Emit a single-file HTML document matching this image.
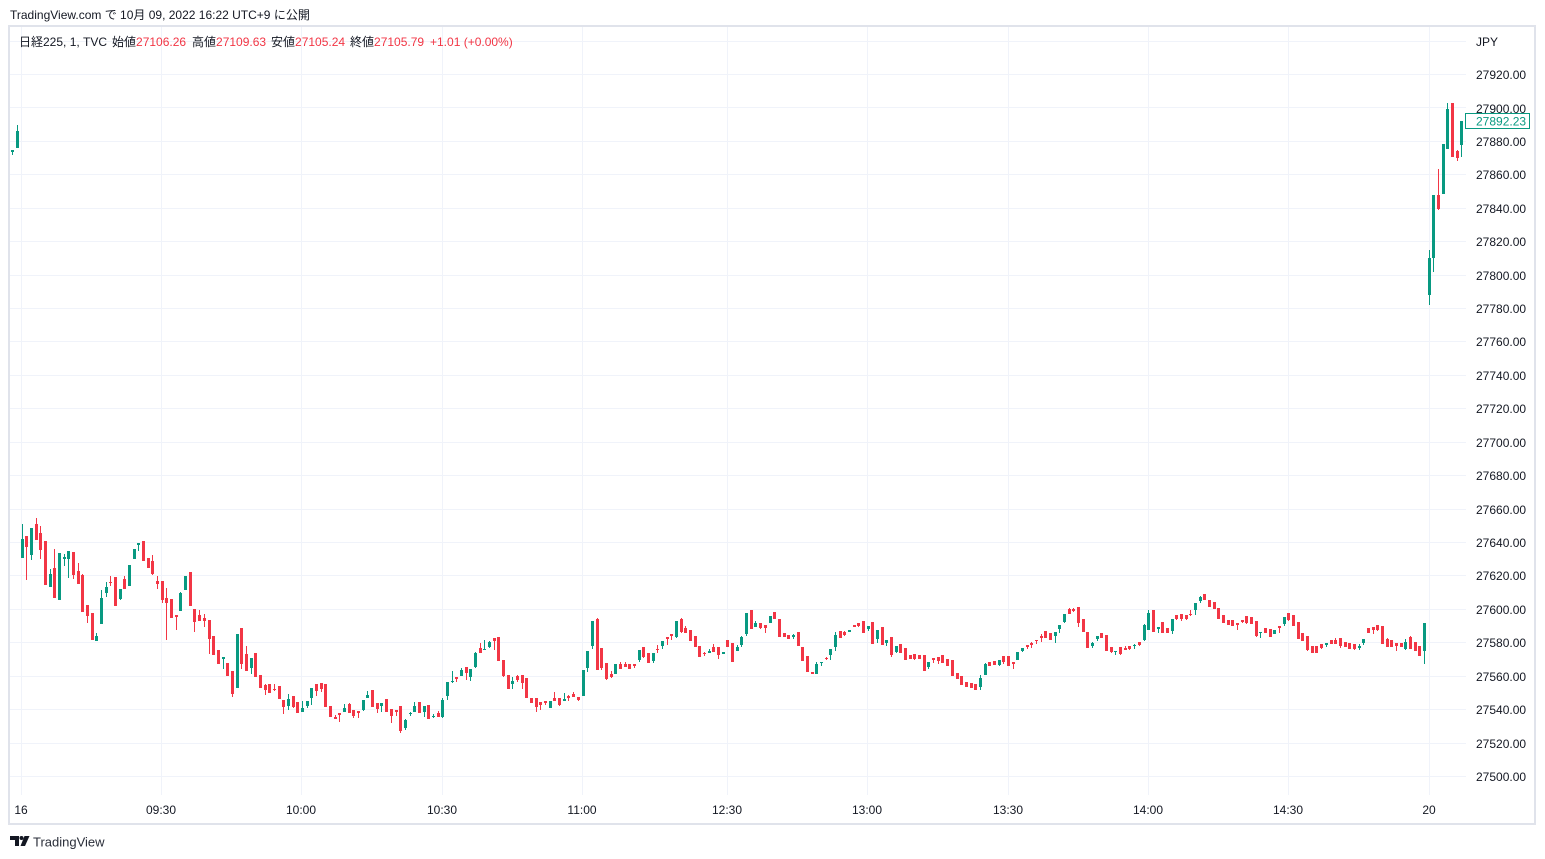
<!DOCTYPE html>
<html><head><meta charset="utf-8">
<style>
html,body{margin:0;padding:0;background:#fff;width:1545px;height:859px;overflow:hidden;}
svg text{font-family:"Liberation Sans","Noto Sans CJK JP",sans-serif;font-size:12px;fill:#131722;}
</style></head><body>
<svg id="c" width="1545" height="859" viewBox="0 0 1545 859" xmlns="http://www.w3.org/2000/svg">
<rect width="1545" height="859" fill="#fff"/>
<g id="grid" stroke="#f0f3fa" stroke-width="1" shape-rendering="crispEdges"></g>
<g id="candles" shape-rendering="crispEdges"></g>
<rect x="9" y="26" width="1526" height="798" fill="none" stroke="#e0e3eb" stroke-width="2"/>
<text x="10" y="19">TradingView.com で 10月 09, 2022 16:22 UTC+9 に公開</text>
<text x="19" y="46">日経225, 1, TVC<tspan x="112">始値</tspan><tspan fill="#f23645">27106.26</tspan><tspan x="192">高値</tspan><tspan fill="#f23645">27109.63</tspan><tspan x="271">安値</tspan><tspan fill="#f23645">27105.24</tspan><tspan x="350">終値</tspan><tspan fill="#f23645">27105.79</tspan><tspan x="430" fill="#f23645">+1.01 (+0.00%)</tspan></text>
<text x="1476" y="46">JPY</text>
<g id="plabels">
<text x="1476" y="79">27920.00</text>
<text x="1476" y="113">27900.00</text>
<text x="1476" y="146">27880.00</text>
<text x="1476" y="179">27860.00</text>
<text x="1476" y="213">27840.00</text>
<text x="1476" y="246">27820.00</text>
<text x="1476" y="280">27800.00</text>
<text x="1476" y="313">27780.00</text>
<text x="1476" y="346">27760.00</text>
<text x="1476" y="380">27740.00</text>
<text x="1476" y="413">27720.00</text>
<text x="1476" y="447">27700.00</text>
<text x="1476" y="480">27680.00</text>
<text x="1476" y="514">27660.00</text>
<text x="1476" y="547">27640.00</text>
<text x="1476" y="580">27620.00</text>
<text x="1476" y="614">27600.00</text>
<text x="1476" y="647">27580.00</text>
<text x="1476" y="681">27560.00</text>
<text x="1476" y="714">27540.00</text>
<text x="1476" y="748">27520.00</text>
<text x="1476" y="781">27500.00</text>
</g>
<rect x="1465.5" y="113.5" width="64" height="15" fill="#fff" stroke="#089981" stroke-width="1"/>
<text x="1476" y="125.5" style="fill:#089981">27892.23</text>
<g text-anchor="middle">
<text x="21" y="814">16</text>
<text x="161" y="814">09:30</text>
<text x="301" y="814">10:00</text>
<text x="442" y="814">10:30</text>
<text x="582" y="814">11:00</text>
<text x="727" y="814">12:30</text>
<text x="867" y="814">13:00</text>
<text x="1008" y="814">13:30</text>
<text x="1148" y="814">14:00</text>
<text x="1288" y="814">14:30</text>
<text x="1429" y="814">20</text>
</g>
<g fill="#131722">
<path d="M10 836 H19 V846 H15 V840 H10 Z"/>
<circle cx="21.5" cy="838" r="2"/>
<path d="M24.5 836 H29.5 L25 846 H20.5 Z"/>
</g>
<text x="33" y="846.5" style="font-size:13px;fill:#2a2e39">TradingView</text>
</svg>
<script>
(function(){
var NS="http://www.w3.org/2000/svg";
var grid=document.getElementById('grid');
function line(x1,y1,x2,y2){var l=document.createElementNS(NS,'line');l.setAttribute('x1',x1);l.setAttribute('y1',y1);l.setAttribute('x2',x2);l.setAttribute('y2',y2);grid.appendChild(l);}
for(var k=0;k<=22;k++){var y=Math.round(776-33.428*k)+0.5;line(10,y,1466,y);}
[21,161,301,442,582,727,867,1008,1148,1288,1429].forEach(function(x){line(x+0.5,27,x+0.5,795);});
var D="G,150,152,150,155|G,131,148,125,148|"+
"G,539,558,524,558|R,536,547,536,580|G,528,555,528,560|R,524,540,518,540|R,533,550,526,559|R,541,585|G,574,587,569,587|R,568,598,549,598|G,553,600|G,557,559,554,566|"+
"G,551,559,551,578|R,552,575,552,579|R,571,584,563,584|R,575,612,574,612|R,605,616,605,623|R,613,640|G,636,641,633,641|G,598,624,590,624|G,587,593,582,597|R,582,583,576,586|"+
"R,577,606|G,589,599,589,600|R,579,589,576,589|G,565,586|G,549,559|G,543,545,543,551|R,541,561|R,558,568|R,561,574,555,575|R,581,584,576,589|"+
"R,581,600,581,603|R,598,603,588,640|R,599,618|R,615,617,615,630|G,593,611,592,611|G,576,590|R,572,606|R,609,622,609,632|R,615,621,610,621|R,618,621,614,627|"+
"R,620,639,620,654|R,636,655|R,650,664|G,657,659,657,669|R,663,676|R,671,694,671,697|G,634,688|R,628,664,628,669|R,654,671,646,671|G,658,668,658,674|"+
"R,653,677|R,675,688|R,685,690,684,695|R,684,693|R,689,690,684,691|R,686,699|R,700,707,700,714|G,699,706,694,710|R,696,707,696,708|R,702,713|"+
"G,708,712,701,712|G,701,706,701,708|G,688,698,688,705|R,684,691,684,696|R,683,689,683,692|R,684,707|R,706,717|R,717,719,715,719|R,713,715,713,722|G,708,712,704,712|"+
"R,704,713,703,713|R,710,716,710,718|R,711,713,711,718|G,700,710,700,711|G,695,698,691,698|R,690,707|R,703,709,703,713|G,703,706,703,712|R,699,712|R,709,716,709,723|"+
"R,710,712,710,716|R,706,731,706,733|G,720,728,719,730|G,713,714,712,716|G,706,712,702,712|R,702,713|G,706,712,706,717|R,705,719|G,716,717,714,718|R,713,717,711,717|"+
"G,700,717,698,718|G,682,696,682,700|G,681,682,671,683|R,677,679,677,682|G,670,676,668,676|R,667,673,667,680|G,669,677,669,681|G,653,667,652,668|R,648,653,643,653|G,649,650,640,650|"+
"G,642,647,641,648|R,638,641,638,650|R,637,661|R,660,676,660,677|R,675,689|G,681,684,677,689|R,676,680,675,682|R,675,683,675,689|R,678,698|R,698,703|"+
"R,698,707,698,712|R,702,705,702,710|R,701,703,701,705|G,701,708|R,698,701,692,701|R,698,705,698,706|G,699,701,693,701|R,696,698,695,701|R,694,697,692,697|R,697,700,697,701|"+
"G,670,696|G,651,668,651,672|G,621,646,621,649|R,619,670,618,670|R,648,668,648,670|R,663,679,663,680|R,674,677,671,678|G,664,674|R,664,669,662,669|R,664,667,662,667|"+
"R,664,669|R,664,666,664,668|G,650,660,650,662|R,647,657,647,658|R,653,663|G,653,661,653,663|R,649,650,645,653|G,641,646,641,649|R,637,639,637,645|R,634,636,634,640|"+
"G,621,637,621,638|R,619,632,618,633|R,628,633,626,633|R,630,641|R,636,647|R,646,657|R,653,654,652,656|G,651,653,649,653|R,647,652,644,652|R,647,655,647,659|"+
"G,652,654|R,640,647|R,643,662|G,647,651,645,651|G,637,645,636,647|G,613,634,613,636|R,610,629|G,623,627,621,627|R,623,628,623,629|R,625,628,625,633|"+
"G,616,623|R,612,619|R,619,637|R,633,637|R,635,639|G,635,637,634,639|R,632,646|R,647,661|R,656,672|R,672,674|"+
"G,664,674,662,674|G,662,663,662,666|R,658,659,657,660|G,649,655,649,660|G,635,647,632,651|R,631,638|R,632,635,631,636|G,630,632|R,625,627|R,623,626,623,627|"+
"R,621,633|G,626,629,626,631|R,622,644|G,630,639,630,643|R,627,645|G,640,643,640,646|R,637,655,637,657|G,646,652,646,653|R,644,653|R,648,660|"+
"R,655,659|R,654,659,654,660|R,655,659|R,655,671|G,662,667,662,669|R,658,660,658,663|R,657,661,657,664|R,655,663|R,659,666|R,660,676|"+
"R,673,679|R,676,685|R,682,687|R,683,688|R,684,690|G,678,687,675,690|G,664,675,663,675|R,662,666|R,661,665|G,660,665,660,666|"+
"R,656,662,656,664|R,656,666|R,662,664,662,669|G,652,660|G,648,651,648,652|R,645,647,645,649|R,643,645,642,648|R,640,641,640,644|R,636,638,634,642|R,631,638|"+
"R,633,640|G,632,636,632,643|G,625,629,625,633|G,614,622,614,623|R,609,614,608,614|R,609,611,608,612|R,607,623,607,627|R,619,632|R,632,648|G,643,646,642,648|"+
"G,636,639,636,641|R,633,638|R,635,651|R,647,652,647,653|G,651,652,651,655|R,647,654,647,655|R,648,650,646,650|R,646,649,646,650|G,645,646,644,649|R,642,645,642,646|"+
"G,625,640,624,641|G,613,630,610,630|R,610,632|G,627,629,627,633|R,622,633|R,628,633|G,619,631,619,634|R,615,619,615,620|R,614,619,614,621|R,615,619,615,620|"+
"R,614,615,610,616|G,603,610,603,615|G,597,601,596,603|R,594,600|R,600,607|R,602,609|R,608,619|R,615,623|R,620,625|R,620,626|"+
"R,623,625,623,630|R,620,622,620,623|R,616,623,616,624|R,617,624|R,621,636,621,637|G,632,633,632,638|R,628,633|R,629,637|G,630,634|R,626,628,626,633|"+
"G,617,624,617,626|R,613,620,613,621|R,615,626|R,622,639|R,633,641|R,636,650,636,651|R,646,653|R,646,653|R,644,648,644,649|G,643,645,643,647|"+
"R,640,644|R,640,644,638,644|R,638,646,638,648|R,642,647|R,643,649|R,644,649,644,650|G,646,648,644,650|G,639,643,639,645|R,628,633|R,627,630,627,634|"+
"R,625,630,625,631|R,626,644|R,639,647,638,647|R,640,647|R,643,646,643,651|R,643,647|G,642,649,639,650|R,637,649,636,649|R,642,651|R,646,656|"+
"G,623,651,623,664|"+
"G,258,295,250,305|G,195,258,195,272|R,195,209,169,210|G,144,194|G,109,149,103,149|R,103,157|R,151,158,150,161|G,121,145,121,157";
var items=D.split('|');
var g=document.getElementById('candles');
var frag=document.createDocumentFragment();
for(var n=0;n<items.length;n++){
  var p=items[n].split(',');
  var c=p[0]==='G'?'#089981':'#f23645';
  var bt=+p[1],bb=+p[2];
  var wt=p.length>3?+p[3]:bt, wb=p.length>3?+p[4]:bb;
  var i=n-2;
  var x=Math.round(21.5+4.675*i);
  var w=document.createElementNS(NS,'rect');
  w.setAttribute('x',x);w.setAttribute('y',Math.min(wt,bt));w.setAttribute('width',1);w.setAttribute('height',Math.max(wb,bb)-Math.min(wt,bt)||1);w.setAttribute('fill',c);
  frag.appendChild(w);
  var r=document.createElementNS(NS,'rect');
  r.setAttribute('x',x-1);r.setAttribute('y',bt);r.setAttribute('width',3);r.setAttribute('height',Math.max(bb-bt,1));r.setAttribute('fill',c);
  frag.appendChild(r);
}
g.appendChild(frag);
})();
</script>
</body></html>
